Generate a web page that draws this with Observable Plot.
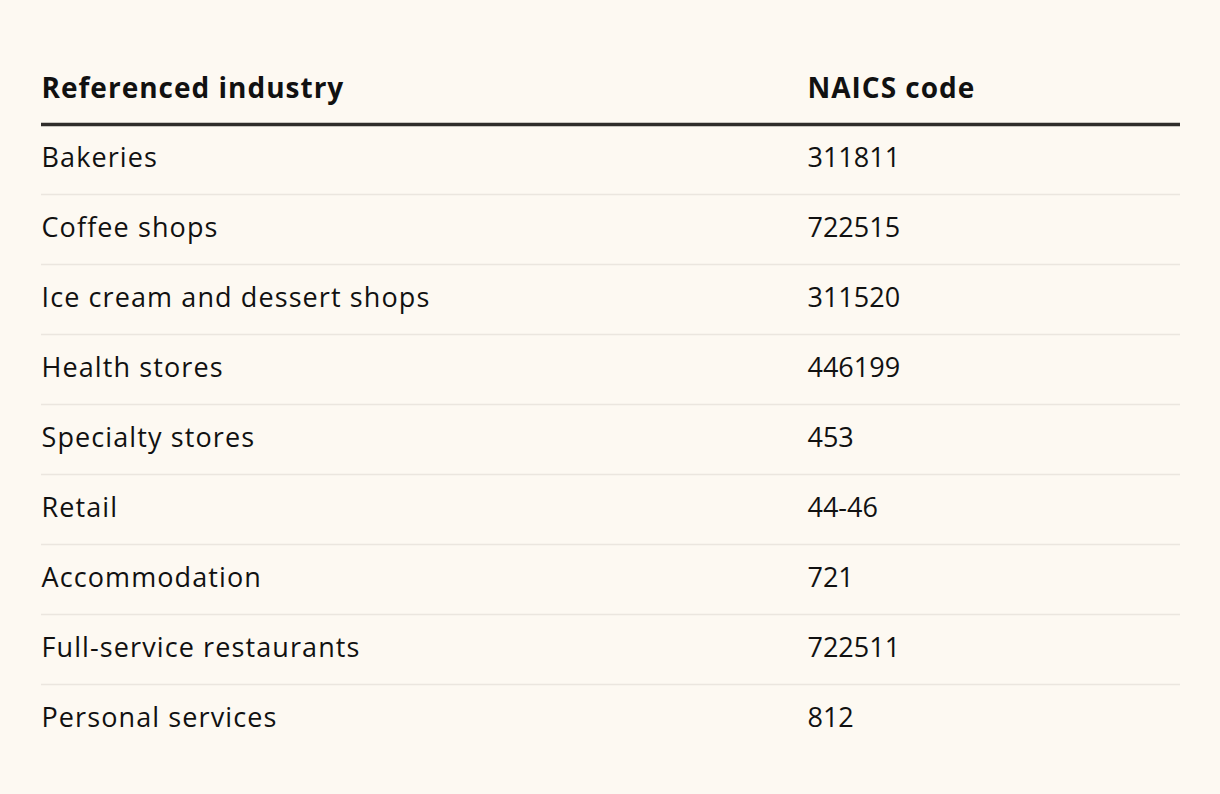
<!DOCTYPE html>
<html>
<head>
<meta charset="utf-8">
<script src="https://cdn.jsdelivr.net/npm/d3@7"></script>
<script src="https://cdn.jsdelivr.net/npm/@observablehq/plot@0.6"></script>
<style>
  html, body { margin: 0; padding: 0; background: #fdf9f2; }
  #chart svg { display: block; }
</style>
</head>
<body>
<div id="chart"></div>
<script>
// Table content
const headers = ["Referenced industry", "NAICS code"];
const industries = [
  "Bakeries",
  "Coffee shops",
  "Ice cream and dessert shops",
  "Health stores",
  "Specialty stores",
  "Retail",
  "Accommodation",
  "Full-service restaurants",
  "Personal services"
];
const naicsCodes = ["311811", "722515", "311520", "446199", "453", "44-46", "721", "722511", "812"];
// relative start of each column across the table width
const columnStart = [0, 0.6725];

const rows = industries.map((name, i) => ({row: i + 1, industry: name, code: naicsCodes[i]}));
const headerRows = headers.map((h, i) => ({label: h, col: columnStart[i]}));

const font = "'Open Sans', 'Noto Sans', sans-serif";
const chart = Plot.plot({
  width: 1220,
  height: 794,
  x: {domain: [0, 1], range: [41, 1180], axis: null},
  y: {domain: [0, rows.length + 1], range: [54, 754], axis: null},
  style: {background: "#fdf9f2", fontFamily: font, color: "#111"},
  marks: [
    Plot.ruleY(rows.slice(0, -1), {y: d => d.row + 1, x1: 0, x2: 1, stroke: "#ebe6df", strokeWidth: 1.5}),
    Plot.ruleY([1], {x1: 0, x2: 1, stroke: "#2f2d2b", strokeWidth: 3.5}),
    Plot.text(headerRows, {x: "col", y: 0.5, text: "label", textAnchor: "start", lineAnchor: "middle",
      fontSize: 28, fontWeight: 700, fill: "#111", dy: 0}),
    Plot.text(rows, {x: columnStart[0], y: d => d.row + 0.5, text: "industry", textAnchor: "start",
      lineAnchor: "middle", fontSize: 27, fill: "#111", dy: -1}),
    Plot.text(rows, {x: columnStart[1], y: d => d.row + 0.5, text: "code", textAnchor: "start",
      lineAnchor: "middle", fontSize: 27, fill: "#111", dy: -1})
  ]
});
// letter spacing per text layer: header, industry column, code column
const spacing = ["1px", "1.1px", "0px"];
d3.select(chart).selectAll("g[aria-label='text']").each(function(_, i) {
  d3.select(this).style("letter-spacing", spacing[i]);
});
document.getElementById("chart").append(chart);
</script>
</body>
</html>
